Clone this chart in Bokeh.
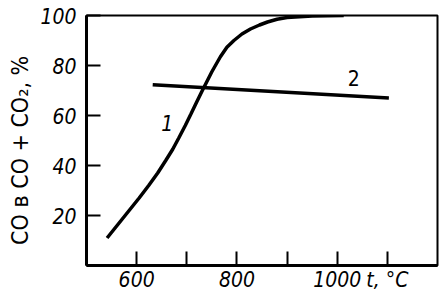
from bokeh.plotting import figure
from bokeh.models import FixedTicker, Label
from bokeh.embed import file_html
from bokeh.resources import INLINE

# Curve 1: CO share vs temperature
t1 = [541, 563, 585, 605, 624, 642, 658, 672, 684, 697, 708, 720, 731, 750, 767, 780, 794, 810, 827, 845, 861, 880, 900, 950, 1013]
co1 = [11, 16.5, 22, 27, 32, 37, 42, 46.5, 51, 56, 60.5, 65.5, 70, 77.5, 83.5, 87.3, 90, 92.6, 94.6, 96.2, 97.4, 98.5, 99.2, 99.8, 100]
# Line 2
t2 = [632, 1103]
co2 = [72.3, 67]

x_ticks = [600, 700, 800, 900, 1000, 1100]
x_labels = {600: "600", 700: "", 800: "800", 900: "", 1000: "1000", 1100: "t, °C"}
y_ticks = [20, 40, 60, 80, 100]

p = figure(width=446, height=303, x_range=(500, 1200), y_range=(0, 100),
           output_backend="svg", toolbar_location=None,
           min_border_left=86, min_border_right=9, min_border_top=15, min_border_bottom=38)
p.grid.visible = False
p.outline_line_color = "black"
p.outline_line_width = 2
p.background_fill_color = "white"
p.border_fill_color = "white"

FONT = "DejaVu Sans Condensed, Liberation Sans, sans-serif"

xa = p.xaxis[0]
xa.ticker = FixedTicker(ticks=x_ticks)
xa.major_label_overrides = x_labels
xa.major_tick_in = 14
xa.major_tick_out = 0
xa.minor_tick_in = 0
xa.minor_tick_out = 0
xa.axis_line_width = 3
xa.major_tick_line_width = 2
xa.major_label_text_font = FONT
xa.major_label_text_font_style = "italic"
xa.major_label_text_font_size = "21px"
xa.major_label_text_color = "black"
xa.major_label_standoff = 2

ya = p.yaxis[0]
ya.ticker = FixedTicker(ticks=y_ticks)
ya.major_tick_in = 14
ya.major_tick_out = 0
ya.minor_tick_in = 0
ya.minor_tick_out = 0
ya.axis_line_width = 3
ya.major_tick_line_width = 2
ya.major_label_text_font = FONT
ya.major_label_text_font_style = "italic"
ya.major_label_text_font_size = "21px"
ya.major_label_text_color = "black"
ya.major_label_standoff = 10
ya.axis_label = "CO в  CO + CO₂,   %"
ya.axis_label_text_font = FONT
ya.axis_label_text_font_style = "normal"
ya.axis_label_text_font_size = "23px"
ya.axis_label_text_color = "black"
ya.axis_label_standoff = 4

p.line(t1, co1, line_color="black", line_width=3.5)
p.line(t2, co2, line_color="black", line_width=3.5)

p.add_layout(Label(x=661, y=57, text="1", text_font=FONT, text_font_style="italic",
                   text_font_size="21px", text_align="center", text_baseline="middle",
                   text_color="black"))
p.add_layout(Label(x=1033, y=75, text="2", text_font=FONT, text_font_style="normal",
                   text_font_size="21px", text_align="center", text_baseline="middle",
                   text_color="black"))

open("out.html", "w").write(file_html(p, INLINE))
